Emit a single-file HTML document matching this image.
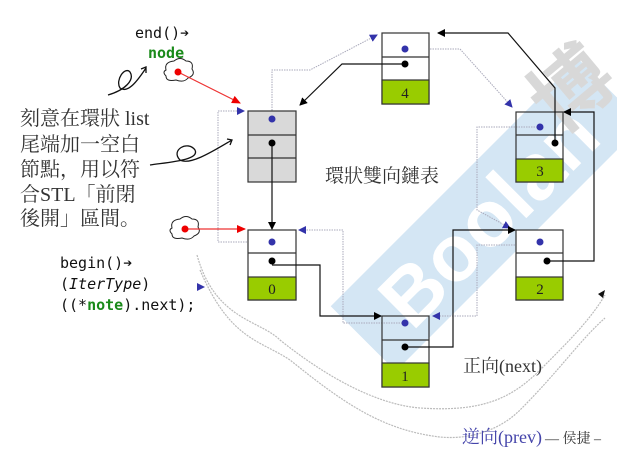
<!DOCTYPE html>
<html><head><meta charset="utf-8"><style>
html,body{margin:0;padding:0;background:#fff;}
body{width:617px;height:472px;overflow:hidden;position:relative;}
svg{position:absolute;left:0;top:0;}
</style></head><body>
<svg width="617" height="472" viewBox="0 0 617 472" xmlns="http://www.w3.org/2000/svg">
<defs>
<marker id="ab" markerWidth="8" markerHeight="8" refX="7" refY="4" orient="auto" markerUnits="userSpaceOnUse"><path d="M0,0 L8,4 L0,8 z" fill="#000"/></marker>
<marker id="ar" markerWidth="9" markerHeight="8" refX="8" refY="4" orient="auto" markerUnits="userSpaceOnUse"><path d="M0,0 L9,4 L0,8 z" fill="#e00"/></marker>
<marker id="au" markerWidth="8" markerHeight="8" refX="7" refY="4" orient="auto" markerUnits="userSpaceOnUse"><path d="M0,0 L8,4 L0,8 z" fill="#33a"/></marker>
</defs>
<!-- watermark band -->
<g transform="translate(487,215) rotate(-45)">
<rect x="-175" y="-46" width="350" height="92" fill="#d4e6f4"/>
<text x="0" y="30" font-family="Liberation Sans,sans-serif" font-size="80" font-weight="bold" fill="#fff" text-anchor="middle">Boolan</text>
</g>
<g transform="translate(590,110) rotate(-40)"><text x="0" y="0" font-family="'Noto Sans CJK TC',sans-serif" font-size="80" font-weight="bold" fill="#d8d8d8" text-anchor="middle">博</text></g>

<!-- wavy gray arcs -->
<g fill="none" stroke="#bbb" stroke-width="1.2" stroke-dasharray="2 1">
<path d="M197,255 C215,320 260,320 280,340 C330,380 380,405 420,408 C480,412 510,400 540,370 C570,340 590,320 605,295"/>
<path d="M200,270 C230,340 260,340 290,360 C340,400 380,430 440,437 C470,440 500,430 520,410 C560,370 580,340 605,318"/>
</g>

<!-- prev dotted links -->
<g fill="none" stroke="#aab" stroke-width="1" stroke-dasharray="1.5 1">
<polyline points="272,123 272,70 310,70 377,35" marker-end="url(#au)"/>
<polyline points="405,49 460,49 512,107" marker-end="url(#au)"/>
<polyline points="540,127 477,127 477,210 510,228" marker-end="url(#au)"/>
<polyline points="540,245 477,245 477,316 433,316" marker-end="url(#au)"/>
<polyline points="405,323 343,323 343,230 299,230" marker-end="url(#au)"/>
<polyline points="272,242 218,242 218,111 244,111" marker-end="url(#au)"/>
</g>

<!-- nodes -->
<g stroke="#333" stroke-width="1.2">
<rect x="248" y="111" width="48" height="71" fill="#d9d9d9"/>
<line x1="248" y1="135" x2="296" y2="135"/><line x1="248" y1="158" x2="296" y2="158"/>
<rect x="248" y="230" width="48" height="70" fill="#fff"/><rect x="248" y="277" width="48" height="23" fill="#99cc00"/>
<line x1="248" y1="253" x2="296" y2="253"/>
<rect x="382" y="33" width="47" height="71" fill="#fff"/><rect x="382" y="80" width="47" height="24" fill="#99cc00"/>
<line x1="382" y1="57" x2="429" y2="57"/>
<rect x="516" y="112" width="47" height="70" fill="none"/><rect x="516" y="159" width="47" height="23" fill="#99cc00"/>
<line x1="516" y1="135" x2="563" y2="135"/>
<rect x="516" y="230" width="47" height="70" fill="#fff"/><rect x="516" y="277" width="47" height="23" fill="#99cc00"/>
<line x1="516" y1="253" x2="563" y2="253"/>
<rect x="382" y="316" width="47" height="71" fill="none"/><rect x="382" y="363" width="47" height="24" fill="#99cc00"/>
<line x1="382" y1="340" x2="429" y2="340"/>
</g>
<g font-family="Liberation Serif,serif" font-size="15" text-anchor="middle" fill="#222">
<text x="272" y="294">0</text><text x="405" y="98">4</text><text x="540" y="176">3</text><text x="540" y="294">2</text><text x="405" y="381">1</text>
</g>

<!-- next links -->
<g fill="none" stroke="#111" stroke-width="1.2">
<polyline points="405,64 342,64 300,105" marker-end="url(#ab)"/>
<polyline points="272,146 272,229" marker-end="url(#ab)"/>
<polyline points="272,265 320,265 320,316 381,316" marker-end="url(#ab)"/>
<polyline points="405,347 453,347 453,230 515,230" marker-end="url(#ab)"/>
<polyline points="547,261 594,261 594,112 564,112" marker-end="url(#ab)"/>
<polyline points="555,143 555,88 508,33 438,33" marker-end="url(#ab)"/>
</g>
<!-- dots -->
<g fill="#33a">
<circle cx="272" cy="119" r="3.5"/><circle cx="272" cy="242" r="3.5"/><circle cx="405" cy="49" r="3.5"/>
<circle cx="540" cy="127" r="3.5"/><circle cx="540" cy="242" r="3.5"/><circle cx="405" cy="323" r="3.5"/>
</g>
<g fill="#000">
<circle cx="272" cy="143" r="3.5"/><circle cx="272" cy="261" r="3.5"/><circle cx="405" cy="64" r="3.5"/>
<circle cx="555" cy="143" r="3.5"/><circle cx="547" cy="261" r="3.5"/><circle cx="405" cy="347" r="3.5"/>
</g>

<!-- clouds & red arrows -->
<g fill="#fff" stroke="#222" stroke-width="1">
<path d="M166,70 q-2,-8 8,-9 q6,-5 12,0 q8,0 6,8 q4,6 -4,9 q-4,5 -12,2 q-10,2 -10,-4 q-4,-4 0,-6z"/>
<path d="M172,228 q-2,-8 8,-9 q6,-5 12,0 q8,0 6,8 q4,6 -4,9 q-4,5 -12,2 q-10,2 -10,-4 q-4,-4 0,-6z"/>
</g>
<g stroke="#e33" stroke-width="1.2" fill="none">
<line x1="178" y1="72" x2="240" y2="103" marker-end="url(#ar)"/>
<line x1="185" y1="229" x2="245" y2="229" marker-end="url(#ar)"/>
</g>
<circle cx="178" cy="72" r="3.5" fill="#e00"/><circle cx="185" cy="229" r="3.5" fill="#e00"/>

<!-- scribbles -->
<g fill="none" stroke="#111" stroke-width="1.3">
<path d="M108,95 C125,90 135,80 130,72 C125,66 115,80 120,88 C128,94 138,80 146,68 M141,69 l5,-2 l0,6"/>
<path d="M150,165 C170,162 200,160 195,150 C188,140 170,150 180,160 C190,166 215,150 232,140 M227,139 l5,1 l-2,5"/>
</g>

<!-- text -->
<g font-family="DejaVu Sans Mono,Liberation Mono,monospace" font-size="15" fill="#111">
<text x="135" y="38">end()➔</text>
<text x="148" y="58" fill="#1a8a1a" font-weight="bold">node</text>
<text x="60" y="268">begin()➔</text>
<text x="60" y="289">(<tspan font-style="italic">IterType</tspan>)</text>
<text x="60" y="310">((*<tspan fill="#1a8a1a" font-weight="bold">note</tspan>).next);</text>
</g>
<g font-family="Liberation Serif,'Noto Serif CJK SC',serif" font-size="20" fill="#333">
<text x="20" y="125">刻意在環狀 list</text>
<text x="20" y="151">尾端加一空白</text>
<text x="20" y="176">節點，用以符</text>
<text x="20" y="201">合STL「前閉</text>
<text x="20" y="225">後開」區間。</text>
<text x="325" y="182" font-size="19">環狀雙向鏈表</text>
<text x="463" y="372" font-size="18">正向(next)</text>
<text x="462" y="443" font-size="18" fill="#44a">逆向(prev)</text>
<text x="545" y="443" font-size="14" fill="#333">— 侯捷 –</text>
</g>
<g fill="#33a"><path d="M197,283 l8,4 l-8,4z"/></g>
<g fill="#111"><path d="M605,290 l-2,8 l-5,-4z"/></g>
</svg>
</body></html>
